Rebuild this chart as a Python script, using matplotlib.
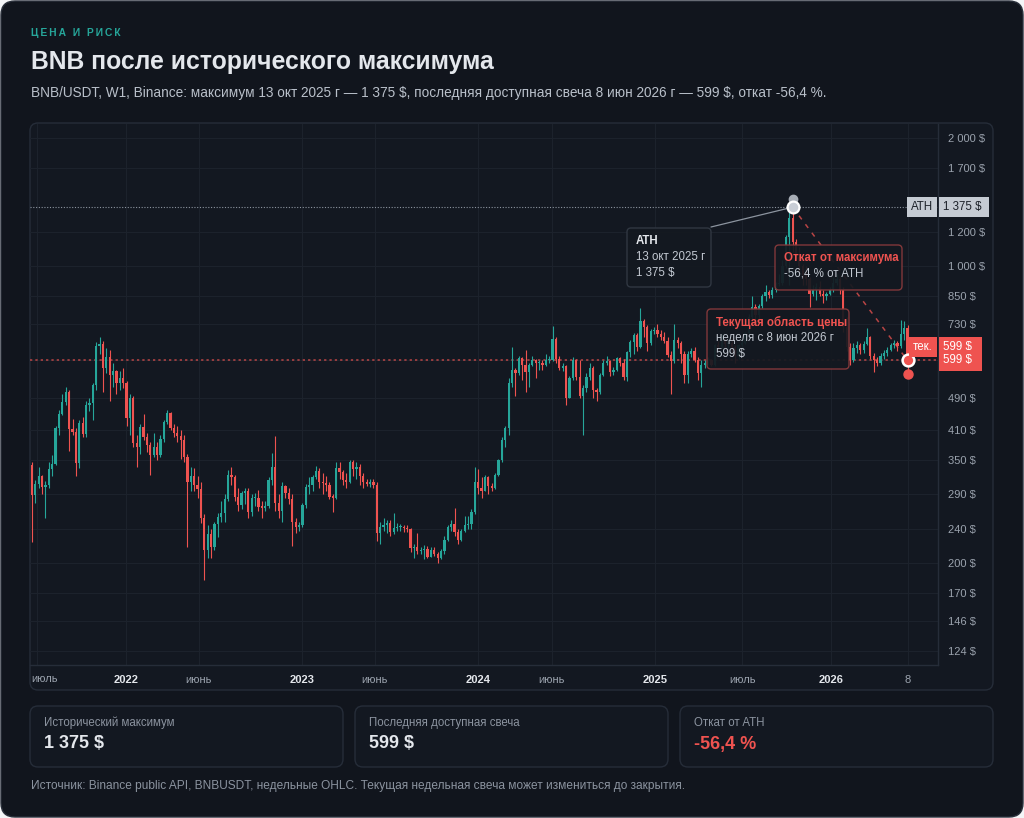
import matplotlib
matplotlib.use("Agg")
import matplotlib.pyplot as plt
import matplotlib.dates as mdates
import matplotlib.transforms as mtransforms
from matplotlib.patches import FancyBboxPatch
from datetime import date, timedelta

plt.rcParams["font.family"] = ["Liberation Sans", "DejaVu Sans"]

# weekly BNB/USDT candles, first week starts 2021-06-21
first_week = date(2021, 6, 21)
first_open = 340
closes = [
    289, 307, 320, 302, 305, 332, 342, 415, 448, 478,
    504, 414, 407, 343, 428, 402, 470, 476, 524, 648,
    655, 575, 610, 553, 565, 530, 544, 530, 438, 490,
    383, 375, 418, 396, 379, 359, 375, 359, 391, 429,
    450, 415, 404, 398, 389, 355, 310, 320, 305, 298,
    255, 214, 234, 218, 247, 256, 262, 283, 322, 318,
    286, 274, 292, 296, 263, 284, 285, 271, 270, 272,
    313, 336, 276, 265, 303, 292, 282, 250, 243, 246,
    274, 302, 305, 318, 329, 310, 308, 305, 286, 285,
    334, 328, 313, 310, 345, 332, 336, 320, 310, 307,
    310, 305, 235, 243, 245, 248, 236, 242, 243, 243,
    242, 240, 217, 218, 213, 214, 216, 207, 215, 210,
    205, 213, 227, 243, 247, 236, 226, 238, 245, 247,
    263, 310, 300, 296, 319, 303, 300, 322, 349, 389,
    415, 530, 569, 560, 607, 585, 563, 585, 600, 590,
    592, 585, 600, 600, 673, 604, 575, 580, 489, 544,
    599, 548, 494, 515, 547, 575, 510, 505, 553, 591,
    598, 563, 570, 607, 590, 547, 626, 662, 688, 645,
    742, 717, 660, 701, 705, 690, 680, 666, 616, 596,
    669, 660, 622, 555, 622, 630, 600, 560, 585, 592,
    600, 585, 650, 645, 665, 655, 660, 645, 615, 650,
    660, 695, 760, 800, 765, 805, 850, 870, 855, 880,
    905, 910, 1000, 1170, 1300, 1140, 1050, 1000, 950, 930,
    860, 880, 890, 860, 850, 860, 880, 910, 930, 880,
    720, 644, 599, 640, 650, 635, 655, 680, 615, 600,
    592, 615, 625, 635, 650, 660, 648, 690, 714, 599,
]
highs = [
    345, 313, 337, 322, 312, 346, 358, 420, 457, 500,
    520, 510, 437, 415, 435, 440, 480, 490, 530, 663,
    680, 665, 640, 635, 590, 570, 565, 575, 535, 500,
    495, 400, 425, 448, 405, 385, 405, 385, 400, 435,
    459, 452, 425, 420, 412, 400, 360, 336, 335, 320,
    310, 260, 245, 240, 250, 262, 280, 290, 330, 336,
    322, 300, 295, 300, 300, 290, 292, 297, 280, 280,
    318, 363, 398, 290, 310, 305, 300, 290, 255, 250,
    277, 306, 318, 322, 338, 335, 325, 320, 310, 290,
    345, 345, 330, 325, 350, 350, 345, 342, 325, 315,
    315, 315, 310, 250, 255, 253, 252, 262, 248, 247,
    246, 246, 242, 222, 235, 218, 220, 219, 218, 218,
    212, 216, 231, 246, 253, 270, 240, 240, 258, 258,
    268, 336, 333, 318, 322, 320, 308, 325, 352, 395,
    420, 545, 644, 575, 615, 612, 634, 590, 615, 605,
    600, 600, 620, 615, 722, 680, 615, 590, 585, 550,
    610, 605, 600, 525, 560, 590, 580, 515, 560, 600,
    615, 602, 578, 610, 612, 605, 632, 670, 695, 695,
    796, 750, 725, 710, 720, 730, 705, 700, 680, 630,
    730, 680, 665, 630, 630, 640, 645, 610, 600, 600,
    610, 605, 655, 665, 690, 675, 670, 675, 650, 655,
    670, 700, 770, 850, 815, 815, 860, 900, 880, 890,
    915, 955, 1030, 1185, 1340, 1375, 1160, 1110, 1010, 1000,
    940, 900, 910, 920, 880, 870, 890, 940, 955, 940,
    890, 760, 660, 660, 665, 660, 665, 714, 685, 625,
    610, 625, 635, 645, 660, 670, 665, 747, 740, 725,
]
lows = [
    224, 276, 300, 290, 255, 300, 320, 340, 399, 445,
    470, 366, 400, 320, 335, 395, 395, 455, 434, 510,
    620, 505, 560, 480, 520, 500, 510, 515, 420, 400,
    375, 337, 360, 390, 365, 322, 355, 350, 355, 385,
    425, 410, 395, 385, 352, 345, 218, 295, 295, 285,
    248, 182, 205, 205, 215, 230, 250, 250, 280, 305,
    280, 265, 268, 275, 255, 258, 272, 265, 255, 265,
    270, 305, 265, 255, 250, 285, 275, 219, 235, 238,
    243, 270, 290, 295, 315, 300, 290, 295, 283, 263,
    283, 315, 305, 300, 308, 320, 315, 305, 300, 303,
    302, 300, 225, 222, 238, 235, 232, 234, 238, 238,
    236, 236, 212, 205, 210, 210, 204, 205, 206, 208,
    200, 204, 210, 225, 238, 232, 222, 225, 236, 240,
    240, 260, 290, 285, 295, 290, 295, 298, 320, 345,
    375, 400, 520, 494, 555, 540, 505, 520, 580, 545,
    570, 570, 580, 590, 598, 590, 568, 565, 470, 488,
    540, 540, 490, 400, 505, 540, 490, 480, 500, 550,
    585, 550, 555, 565, 580, 540, 535, 610, 620, 630,
    640, 680, 630, 650, 690, 680, 670, 660, 610, 500,
    590, 640, 590, 530, 530, 610, 595, 540, 520, 575,
    585, 580, 580, 635, 640, 645, 640, 625, 590, 605,
    645, 655, 690, 740, 745, 750, 795, 825, 840, 840,
    870, 895, 900, 990, 900, 1080, 1040, 960, 900, 900,
    800, 850, 830, 850, 820, 830, 855, 870, 900, 860,
    700, 630, 585, 595, 625, 620, 625, 650, 605, 563,
    580, 585, 605, 615, 630, 640, 630, 640, 670, 556,
]

ath_date = date(2025, 10, 13)
ath_price = 1375
last_date = date(2026, 6, 8)
last_price = 599
drawdown = "-56,4 %"

x_ticks = [date(2021, 7, 1), date(2022, 1, 1), date(2022, 6, 1), date(2023, 1, 1),
           date(2023, 6, 1), date(2024, 1, 1), date(2024, 6, 1), date(2025, 1, 1),
           date(2025, 7, 1), date(2026, 1, 1), date(2026, 6, 8)]
x_labels = ["июль", "2022", "июнь", "2023", "июнь", "2024", "июнь", "2025", "июль", "2026", "8"]
y_ticks = [124, 146, 170, 200, 240, 290, 350, 410, 490, 600, 730, 850, 1000, 1200, 1700, 2000]

stat_labels = ["Исторический максимум", "Последняя доступная свеча", "Откат от ATH"]
stat_values = ["1 375 $", "599 $", drawdown]

# colours
PAGE = "#11151d"
PANEL = "#131821"
BORDER = "#262d39"
GRID = "#1c222c"
TEXT = "#e4e7ec"
MUTED = "#9ba3ae"
UP = "#26a69a"
DOWN = "#ef5350"

W, H = 1024, 818


def fmt_price(v):
    return f"{v:,}".replace(",", " ") + " $"


fig = plt.figure(figsize=(W / 100, H / 100), dpi=100, facecolor="#f4f5f7")

# background layer in pixel coordinates
bg = fig.add_axes([0, 0, 1, 1], zorder=0)
bg.set_xlim(0, W)
bg.set_ylim(H, 0)
bg.axis("off")
bg.add_patch(FancyBboxPatch((1, 1), W - 2, H - 2, boxstyle="round,pad=0,rounding_size=14",
                            fc=PAGE, ec="#2a303b", lw=1))
bg.add_patch(FancyBboxPatch((30, 123), 963, 567, boxstyle="round,pad=0,rounding_size=8",
                            fc=PANEL, ec=BORDER, lw=1))
for i, x0 in enumerate([30, 355, 680]):
    bg.add_patch(FancyBboxPatch((x0, 706), 313, 61, boxstyle="round,pad=0,rounding_size=8",
                                fc=PANEL, ec=BORDER, lw=1))
    bg.text(x0 + 14, 723, stat_labels[i], color="#8b939f", fontsize=8.3, va="center")
    bg.text(x0 + 14, 744, stat_values[i], color=DOWN if i == 2 else TEXT, fontsize=13,
            fontweight="bold", va="center")

bg.text(31, 33, "\u2009".join("ЦЕНА И РИСК"), color=UP, fontsize=7.4, fontweight="bold",
        va="center")
bg.text(31, 62, "BNB после исторического максимума", color=TEXT, fontsize=17.8,
        fontweight="bold", va="center")
bg.text(31, 93, "BNB/USDT, W1, Binance: максимум 13 окт 2025 г — 1 375 \\$, последняя доступная "
        "свеча 8 июн 2026 г — 599 \\$, откат -56,4 %.", color="#b9c0ca", fontsize=9.85,
        va="center")
bg.text(31, 786, "Источник: Binance public API, BNBUSDT, недельные OHLC. Текущая недельная свеча "
        "может измениться до закрытия.", color="#8b939f", fontsize=8.55, va="center")

# price chart
ax = fig.add_axes([30 / W, 1 - 665 / H, (938 - 30) / W, (665 - 124) / H], zorder=1)
ax.set_facecolor("none")
ax.set_yscale("log")
ax.set_ylim(115, 2158)

weeks = [first_week + timedelta(weeks=i) for i in range(len(closes))]
xs = mdates.date2num(weeks)
opens = [first_open] + closes[:-1]
colors = [UP if c >= o else DOWN for o, c in zip(opens, closes)]
bottoms = [min(o, c) for o, c in zip(opens, closes)]
heights = [max(abs(c - o), min(o, c) * 0.006) for o, c in zip(opens, closes)]

ax.vlines(xs, lows, highs, colors=colors, linewidth=0.8, zorder=3)
ax.bar(xs, heights, bottom=bottoms, width=4.6, color=colors, linewidth=0, zorder=4)

x_left = mdates.date2num(date(2021, 6, 17))
x_right = mdates.date2num(date(2026, 8, 10))
ax.set_xlim(x_left, x_right)

# first month label sits flush with the left edge, drawn separately
ax.set_xticks(mdates.date2num(x_ticks))
ax.set_xticklabels([""] + x_labels[1:])
for lbl in ax.get_xticklabels():
    if lbl.get_text().isdigit() and len(lbl.get_text()) == 4:
        lbl.set_color(TEXT)
        lbl.set_fontweight("bold")
    else:
        lbl.set_color(MUTED)
bg.text(31, 679, x_labels[0], color=MUTED, fontsize=8, va="center", ha="left")

ax.set_yticks(y_ticks)
ax.set_yticklabels(["" if v == 600 else fmt_price(v) for v in y_ticks])
ax.yaxis.set_minor_locator(matplotlib.ticker.NullLocator())
ax.yaxis.tick_right()
ax.tick_params(axis="y", length=0, pad=7, labelsize=8, labelcolor=MUTED)
ax.tick_params(axis="x", length=0, pad=7, labelsize=8)
ax.grid(True, color=GRID, linewidth=0.8, zorder=0)
for side in ["top", "left"]:
    ax.spines[side].set_visible(False)
for side in ["bottom", "right"]:
    ax.spines[side].set_color(BORDER)
    ax.spines[side].set_linewidth(1)

ath_x = mdates.date2num(ath_date)
last_x = mdates.date2num(last_date)

ax.axhline(ath_price, color="#8c949f", linewidth=0.8, linestyle=(0, (1, 1.5)), zorder=2)
ax.axhline(last_price, color=DOWN, linewidth=1.1, linestyle=(0, (1.5, 2)), alpha=0.75, zorder=2)
ax.plot([ath_x, last_x], [ath_price, last_price], color=DOWN, linewidth=1.1,
        linestyle=(0, (3, 4)), alpha=0.75, zorder=5)

ax.plot([ath_x], [ath_price * 1.045], "o", color="#a7adb6", markersize=6, zorder=6, clip_on=False)
ax.plot([ath_x], [ath_price], "o", mfc="#c9ced6", mec="white", mew=1.6, markersize=8.5, zorder=7)
ax.plot([last_x], [lows[-1]], "o", color=DOWN, markersize=6.5, zorder=6)
ax.plot([last_x], [last_price], "o", mfc=DOWN, mec="white", mew=1.8, markersize=8.5, zorder=7)

ax.annotate("", xy=(ath_x, ath_price), xytext=(711 / W, 1 - 227 / H),
            textcoords="figure fraction",
            arrowprops=dict(arrowstyle="-", color="#8c949f", lw=0.9, shrinkA=0, shrinkB=4),
            zorder=5)

# right side price tags
blend = mtransforms.blended_transform_factory(ax.transAxes, ax.transData)
tag_font = dict(fontsize=8.3, va="center", transform=blend, clip_on=False, zorder=9)
ax.text(1 - 5 / 908, ath_price, "ATH", ha="right", color="#1c2129",
        bbox=dict(boxstyle="square,pad=0.35", fc="#c5cbd3", ec="none"), **tag_font)
ax.text(1 + 5 / 908, ath_price, fmt_price(ath_price) + " ", ha="left", color="#1c2129",
        bbox=dict(boxstyle="square,pad=0.35", fc="#c5cbd3", ec="none"), **tag_font)
ax.text(1 - 5 / 908, last_price * 1.075, "тек.", ha="right", color="white",
        bbox=dict(boxstyle="square,pad=0.35", fc=DOWN, ec="none"), **tag_font)
ax.text(1 + 5 / 908, last_price * 1.075, fmt_price(last_price) + "  ", ha="left", color="white",
        bbox=dict(boxstyle="square,pad=0.35", fc=DOWN, ec="none"), **tag_font)
ax.text(1 + 5 / 908, last_price, fmt_price(last_price) + "  ", ha="left", color="white",
        bbox=dict(boxstyle="square,pad=0.35", fc=DOWN, ec="none"), **tag_font)

# annotation layer
fg = fig.add_axes([0, 0, 1, 1], zorder=2)
fg.set_xlim(0, W)
fg.set_ylim(H, 0)
fg.axis("off")


def note(x0, y0, w, h, lines, edge, title_color):
    fg.add_patch(FancyBboxPatch((x0, y0), w, h, boxstyle="round,pad=0,rounding_size=4",
                                fc="#141920", ec=edge, lw=1, alpha=0.93))
    for k, txt in enumerate(lines):
        fg.text(x0 + 9, y0 + 13 + 16 * k, txt, fontsize=8.3, va="center",
                color=title_color if k == 0 else "#c3c9d2",
                fontweight="bold" if k == 0 else "normal")


note(627, 228, 84, 59, ["ATH", "13 окт 2025 г", fmt_price(ath_price)], "#323944", TEXT)
note(775, 245, 127, 45, ["Откат от максимума", drawdown + " от ATH"], "#8a3a3c", DOWN)
note(707, 309, 142, 60, ["Текущая область цены", "неделя с 8 июн 2026 г", fmt_price(last_price)],
     "#8a3a3c", DOWN)

fig.savefig("out.png", dpi=100, facecolor=fig.get_facecolor())
